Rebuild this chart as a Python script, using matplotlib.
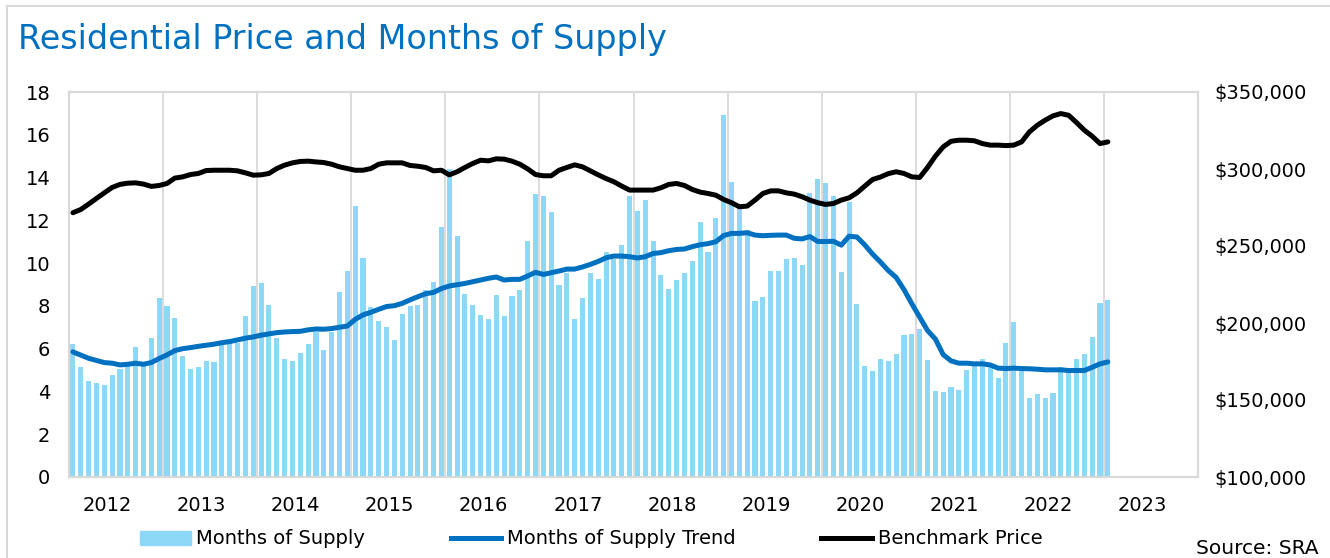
import matplotlib.pyplot as plt
from matplotlib.patches import Rectangle
from matplotlib.lines import Line2D
from matplotlib.ticker import FuncFormatter

# monthly data, Jan 2012 onwards (133 months)
years = list(range(2012, 2024))

months_supply = [
    6.22, 5.12, 4.50, 4.39, 4.31, 4.79, 5.04, 5.20, 6.10, 5.20, 6.52, 8.35,
    8.01, 7.44, 5.65, 5.06, 5.15, 5.43, 5.37, 6.37, 6.44, 6.25, 7.53, 8.91,
    9.07, 8.02, 6.50, 5.52, 5.44, 5.78, 6.22, 6.80, 5.94, 6.80, 8.63, 9.62,
    12.68, 10.23, 7.93, 7.28, 7.01, 6.40, 7.60, 8.00, 8.03, 8.74, 9.12, 11.69,
    14.40, 11.25, 8.56, 8.02, 7.59, 7.38, 8.49, 7.51, 8.47, 8.72, 11.04, 13.25,
    13.14, 12.40, 8.98, 9.55, 7.40, 8.38, 9.52, 9.28, 10.50, 10.20, 10.85, 13.14,
    12.44, 12.95, 11.02, 9.46, 8.79, 9.20, 9.52, 10.12, 11.91, 10.52, 12.12, 16.92,
    13.80, 12.60, 11.57, 8.23, 8.41, 9.62, 9.62, 10.18, 10.23, 9.90, 13.30, 13.92,
    13.76, 13.16, 9.58, 12.88, 8.09, 5.20, 4.95, 5.52, 5.41, 5.75, 6.63, 6.68,
    6.90, 5.47, 4.03, 3.97, 4.22, 4.09, 5.00, 5.25, 5.52, 5.28, 4.61, 6.26,
    7.24, 4.95, 3.69, 3.90, 3.68, 3.93, 5.14, 5.00, 5.52, 5.75, 6.54, 8.13,
    8.26,
]

supply_trend = [
    5.85, 5.70, 5.55, 5.45, 5.35, 5.32, 5.24, 5.27, 5.32, 5.27, 5.35, 5.54,
    5.71, 5.91, 6.00, 6.05, 6.11, 6.16, 6.21, 6.28, 6.33, 6.41, 6.49, 6.55,
    6.63, 6.69, 6.75, 6.78, 6.80, 6.81, 6.88, 6.92, 6.91, 6.94, 7.00, 7.06,
    7.37, 7.58, 7.70, 7.84, 7.97, 8.01, 8.12, 8.28, 8.43, 8.57, 8.63, 8.81,
    8.93, 8.99, 9.05, 9.13, 9.21, 9.29, 9.35, 9.21, 9.24, 9.24, 9.40, 9.57,
    9.47, 9.55, 9.63, 9.72, 9.72, 9.82, 9.94, 10.08, 10.25, 10.33, 10.33, 10.30,
    10.24, 10.30, 10.45, 10.49, 10.58, 10.64, 10.66, 10.77, 10.86, 10.91, 11.00, 11.29,
    11.39, 11.39, 11.42, 11.31, 11.28, 11.30, 11.31, 11.31, 11.16, 11.13, 11.24, 11.01,
    11.01, 11.02, 10.84, 11.26, 11.22, 10.85, 10.42, 10.05, 9.65, 9.33, 8.76, 8.10,
    7.47, 6.85, 6.45, 5.72, 5.43, 5.32, 5.32, 5.29, 5.29, 5.24, 5.09, 5.07,
    5.09, 5.07, 5.06, 5.04, 5.01, 5.01, 5.01, 4.98, 4.98, 4.98, 5.13, 5.29,
    5.38,
]

benchmark_price = [
    271600, 273700, 277200, 280900, 284500, 288000, 290000, 290800, 291000, 290200, 288700, 289300,
    290600, 294100, 294900, 296400, 297100, 299000, 299200, 299200, 299200, 298800, 297500, 296000,
    296200, 297100, 300300, 302500, 304000, 304900, 305100, 304600, 304200, 303100, 301400, 300300,
    299200, 299200, 300300, 303100, 304000, 304000, 304000, 302300, 301800, 301000, 298800, 299200,
    296200, 298200, 301000, 303600, 305700, 305300, 306600, 306400, 305100, 303100, 300100, 296400,
    295600, 295600, 299200, 301000, 302700, 301400, 298800, 296200, 293800, 291700, 288900, 286300,
    286300, 286300, 286300, 287800, 290000, 290600, 289300, 286700, 285000, 284100, 283000, 280200,
    278100, 275500, 275900, 279800, 284100, 285800, 285800, 284500, 283700, 282000, 279800, 278100,
    277000, 277600, 279800, 281300, 284500, 288900, 293200, 294800, 297000, 298200, 297100, 294900,
    294500, 301000, 308300, 314400, 318000, 318700, 318700, 318300, 316500, 315500, 315500, 315200,
    315500, 317600, 324100, 328400, 331700, 334500, 336000, 334900, 330200, 325200, 321300, 316500,
    317600,
]

bar_color = '#8DD7F7'
trend_color = '#0070C0'
grid_color = '#D9D9D9'

plt.rcParams['font.family'] = 'DejaVu Sans'

fig = plt.figure(figsize=(13.3, 5.58), dpi=100)
ax = fig.add_axes([69 / 1330, 1 - 477 / 558, (1198 - 69) / 1330, (477 - 92) / 558])

x = list(range(len(months_supply)))
ax.bar(x, months_supply, width=0.65, color=bar_color, zorder=2)
ax.plot(x, supply_trend, color=trend_color, lw=3.6, zorder=3, solid_capstyle='round')

ax.set_xlim(-0.5, 143.5)
ax.set_ylim(0, 18)
ax.set_yticks(range(0, 19, 2))
ax.set_xticks([4.4 + 12 * k for k in range(len(years))])
ax.set_xticklabels([str(y) for y in years])
ax.tick_params(axis='both', length=0, labelsize=14, colors='black')
ax.tick_params(axis='x', pad=14)
ax.tick_params(axis='y', pad=13.5)
for k in range(1, 12):
    ax.axvline(12 * k - 0.5, color=grid_color, lw=1.3, zorder=1)
for s in ax.spines.values():
    s.set_color(grid_color)
    s.set_linewidth(1.5)

ax2 = ax.twinx()
ax2.plot(x, benchmark_price, color='black', lw=3.6, zorder=4, solid_capstyle='round')
ax2.set_ylim(100000, 350000)
ax2.set_yticks(range(100000, 350001, 50000))
ax2.yaxis.set_major_formatter(FuncFormatter(lambda v, p: '${:,.0f}'.format(v)))
ax2.tick_params(axis='y', length=0, labelsize=14, pad=12)
for s in ax2.spines.values():
    s.set_color(grid_color)
    s.set_linewidth(1.5)

# title and outer frame
fig.text(18 / 1330, 1 - 40 / 558, 'Residential Price and Months of Supply',
         fontsize=24, color='#0070C0', va='center', ha='left')
fig.patches.append(Rectangle((7 / 1330, -0.1), 1.2, 1 - 6 / 558 + 0.1,
                             transform=fig.transFigure, fill=False,
                             edgecolor=grid_color, lw=1.5))

handles = [
    Rectangle((0, 0), 1, 1, color=bar_color),
    Line2D([0], [0], color=trend_color, lw=3.6),
    Line2D([0], [0], color='black', lw=3.6),
]
labels = ['Months of Supply', 'Months of Supply Trend', 'Benchmark Price']
fig.legend(handles, labels, loc='center left', ncol=3, frameon=False,
           bbox_to_anchor=(140 / 1330, 1 - 539 / 558), fontsize=14,
           handlelength=2.6, handletextpad=0.3, columnspacing=4.4,
           borderpad=0, borderaxespad=0)

fig.text(1318 / 1330, 1 - 548 / 558, 'Source: SRA', fontsize=14.5,
         ha='right', va='center')

fig.savefig('out.png', dpi=100)
